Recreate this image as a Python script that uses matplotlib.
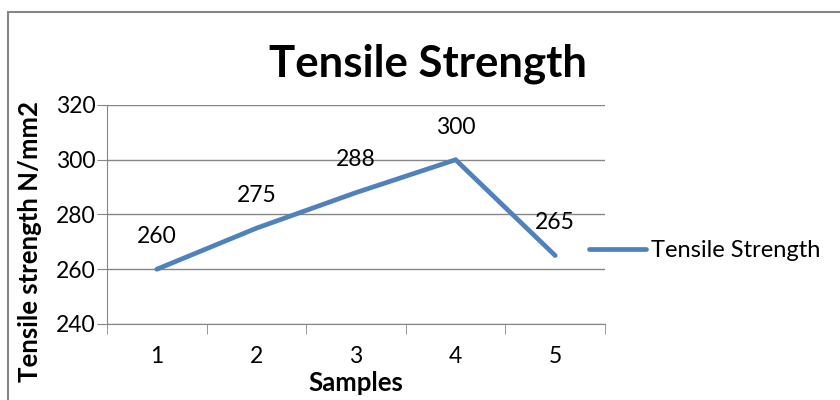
import matplotlib.pyplot as plt
from matplotlib.lines import Line2D

samples = ['1', '2', '3', '4', '5']
strength = [260, 275, 288, 300, 265]
yticks = [240, 260, 280, 300, 320]

plt.rcParams['font.family'] = ['Lato', 'DejaVu Sans']

fig = plt.figure(figsize=(8.4, 4.0), dpi=100)
ax = fig.add_axes([107 / 840, 1 - 324 / 400, 498 / 840, 219 / 400])

x = list(range(len(samples)))
ax.plot(x, strength, color='#4F81BD', lw=3.4, solid_capstyle='round',
        solid_joinstyle='miter', label='Tensile Strength', zorder=3)
for xi, v in zip(x, strength):
    ax.annotate(str(v), (xi, v), xytext=(0, 16), textcoords='offset points',
                ha='center', va='bottom', fontsize=16.5, color='black')

ax.set_xlim(-0.5, len(samples) - 0.5)
ax.set_ylim(240, 320)
ax.set_yticks(yticks)
ax.set_xticks(x)
ax.set_xticklabels(samples, fontsize=16.5)
ax.set_yticklabels([str(t) for t in yticks], fontsize=16.5)
ax.tick_params(axis='x', length=0, pad=16)
ax.tick_params(axis='y', length=7, color='#868686', pad=1, direction='out')
ax.set_xticks([i + 0.5 for i in range(len(samples) - 1)] + [-0.5, len(samples) - 0.5], minor=True)
ax.tick_params(axis='x', which='minor', length=7, color='#868686', direction='out')
ax.grid(axis='y', color='#868686', lw=1)
for s in ['top', 'right']:
    ax.spines[s].set_visible(False)
ax.spines['left'].set_color('#868686')
ax.spines['bottom'].set_color('#868686')

ax.set_xlabel('Samples', fontsize=18.5, fontweight='bold', labelpad=3)
ax.set_ylabel('Tensile strength N/mm2', fontsize=18.5, fontweight='bold')
ax.yaxis.set_label_coords(-0.130, 0.375)

fig.text(428 / 840, 1 - 64 / 400, 'Tensile Strength', ha='center', va='center',
         fontsize=31.5, fontweight='bold')

handle = Line2D([], [], color='#4F81BD', lw=3.4, solid_capstyle='round')
fig.legend([handle], ['Tensile Strength'], loc='center left',
           bbox_to_anchor=(568 / 840, 1 - 251 / 400), frameon=False,
           fontsize=17, handlelength=2.4, handletextpad=0.2)

border = plt.Rectangle((8 / 840, -0.1), 1.1, 1 - 12 / 400 + 0.1, transform=fig.transFigure,
                       fill=False, edgecolor='#868686', lw=1.5, clip_on=False)
fig.add_artist(border)

fig.savefig('out.png', dpi=100)
